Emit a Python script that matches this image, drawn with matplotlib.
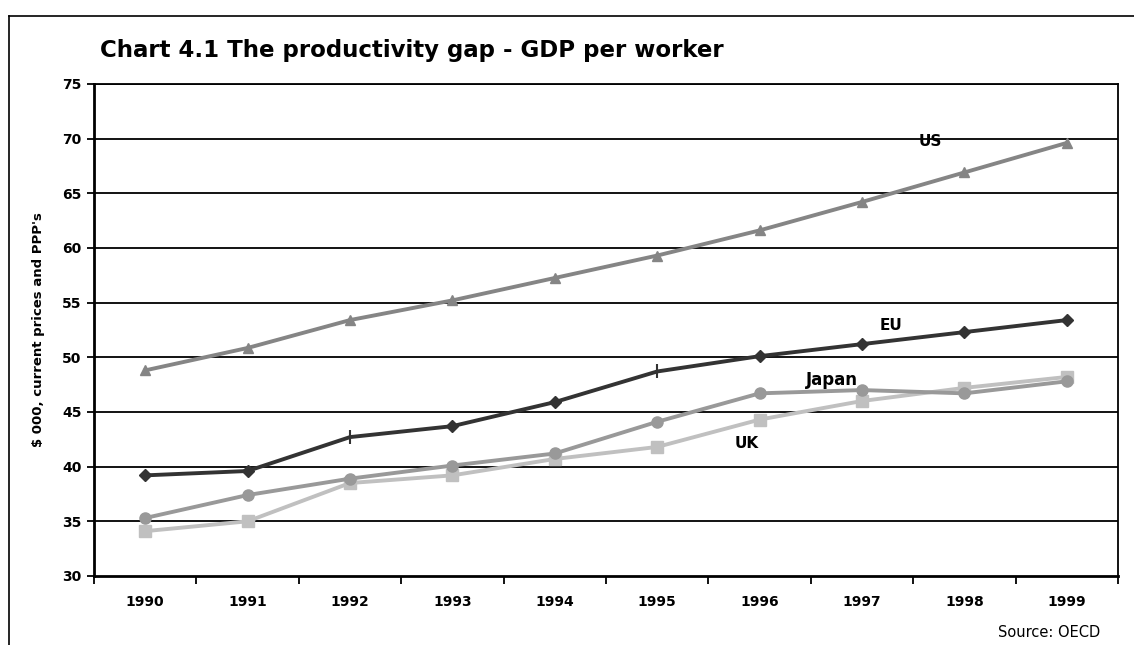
import matplotlib
matplotlib.use("Agg")
import matplotlib.pyplot as plt
from matplotlib.lines import Line2D

plt.rcParams["font.family"] = ["DejaVu Sans"]

# ── Data ($ 000 per worker, current prices and PPPs) ──────────────────────────
years = ["1990", "1991", "1992", "1993", "1994", "1995", "1996", "1997", "1998", "1999"]
us    = [48.8, 50.85, 53.4, 55.2, 57.25, 59.3, 61.6, 64.2, 66.9, 69.6]
eu    = [39.2, 39.6, 42.7, 43.7, 45.9, 48.7, 50.1, 51.2, 52.3, 53.4]
japan = [35.3, 37.4, 38.9, 40.1, 41.2, 44.1, 46.7, 47.0, 46.7, 47.8]
uk    = [34.1, 35.0, 38.5, 39.2, 40.7, 41.8, 44.3, 46.0, 47.2, 48.2]

x = list(range(len(years)))

fig = plt.figure(figsize=(11.34, 6.45), dpi=100)
ax = fig.add_axes([0.0829, 0.107, 0.903, 0.763])

# outer frame (left and top edges only)
fig.add_artist(Line2D([0.008, 0.008], [0.0, 0.975], color="black", lw=1.2,
                      transform=fig.transFigure))
fig.add_artist(Line2D([0.008, 1.0], [0.975, 0.975], color="black", lw=1.2,
                      transform=fig.transFigure))

# horizontal gridlines
for v in range(35, 80, 5):
    ax.axhline(v, color="black", lw=1.3, zorder=1)

ax.plot(x, uk, color="#c0c0c0", lw=2.8, marker="s", markersize=8, zorder=3)
ax.plot(x, japan, color="#999999", lw=2.8, marker="o", markersize=8, zorder=4)
ax.plot(x, us, color="#858585", lw=2.8, marker="^", markersize=7.5, zorder=4)
ax.plot(x, eu, color="#333333", lw=2.8, marker="D", markersize=6,
        markevery=[0, 1, 3, 4, 6, 7, 8, 9], zorder=5)
ax.plot(x, eu, color="#333333", lw=0, marker="|", markersize=10, mew=1.5,
        markevery=[2, 5], zorder=5)

# series labels
lab = dict(fontsize=11, fontweight="bold", ha="center", va="center")
ax.text(7.67, 69.7, "US", **lab)
ax.text(7.28, 52.9, "EU", **lab)
ax.text(6.71, 47.9, "Japan", fontsize=12, fontweight="bold", ha="center", va="center")
ax.text(5.87, 42.1, "UK", **lab)

ax.set_xlim(-0.5, len(years) - 0.5)
ax.set_ylim(30, 75)
ax.set_yticks(range(30, 80, 5))
ax.set_xticks(x)
ax.set_xticklabels(years)
ax.set_xticks([i - 0.5 for i in range(len(years) + 1)], minor=True)

ax.tick_params(axis="x", which="major", length=0, pad=14, labelsize=10)
ax.tick_params(axis="x", which="minor", length=6, width=1.3, direction="out")
ax.tick_params(axis="y", length=5, width=1.3, direction="out", pad=4, labelsize=10)
for lbl in ax.get_xticklabels() + ax.get_yticklabels():
    lbl.set_fontweight("bold")

for s in ax.spines.values():
    s.set_linewidth(1.3)
ax.spines["left"].set_linewidth(2)
ax.spines["bottom"].set_linewidth(2)

ax.set_ylabel("$ 000, current prices and PPP's", fontsize=9.5, fontweight="bold",
              labelpad=12)

fig.text(0.088, 0.922, "Chart 4.1 The productivity gap - GDP per worker",
         fontsize=16.5, fontweight="bold", ha="left", va="center")
fig.text(0.970, 0.020, "Source: OECD", fontsize=10.5, ha="right", va="center")

fig.savefig("out.png", dpi=100)
